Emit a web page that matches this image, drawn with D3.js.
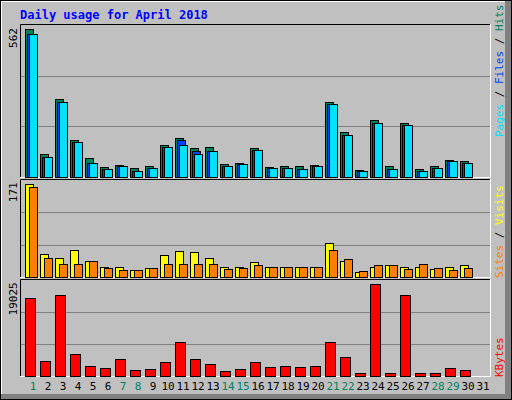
<!DOCTYPE html><html><head><script src="https://cdn.jsdelivr.net/npm/d3@7"></script>
<style>body{margin:0;background:#fff}</style></head><body><svg id="c" width="512" height="400"></svg>
<script>
const days=d3.range(1,32);
const weekend=[1,7,8,14,15,21,22,28,29];
const hits=[552,84,290,136,69,35,43,32,39,118,144,107,110,47,50,107,35,39,39,43,279,167,24,212,39,200,28,39,62,58,0];
const files=[534,74,279,129,50,28,39,20,32,110,136,95,95,39,47,99,32,32,28,39,272,155,20,200,28,193,20,32,58,50,0];
const pages=[534,74,279,129,50,28,39,20,32,110,118,84,95,39,47,99,32,32,28,39,272,155,20,200,28,193,20,32,58,50,0];
const visits=[164,40,34,47,27,18,17,11,15,38,45,43,34,17,18,26,17,18,17,18,59,27,8,17,20,17,18,13,18,20,0];
const sites=[160,33,22,22,27,15,11,11,15,22,22,22,22,13,15,20,17,18,17,17,47,31,10,20,20,13,22,15,11,15,0];
const kbytes=[15434,2871,16032,4267,1874,1476,3270,1077,1276,2672,6660,3270,2273,877,1276,2672,1675,1874,1675,1874,6660,3669,479,18228,479,16032,479,479,1476,1077,0];
const maxLabels=["562","171","19025"];
const svg=d3.select("#c");
// frame
svg.append("rect").attr("x",0).attr("y",0).attr("width",512).attr("height",400).attr("fill","#c0c0c0");
svg.append("path").attr("d","M1,399V1H511").attr("stroke","#fff").attr("stroke-width",2).attr("fill","none");
svg.append("rect").attr("x",505).attr("y",0).attr("width",7).attr("height",400).attr("fill","#808080");
svg.append("rect").attr("x",0).attr("y",394).attr("width",512).attr("height",6).attr("fill","#808080");
svg.append("rect").attr("x",0.5).attr("y",0.5).attr("width",511).attr("height",399).attr("fill","none").attr("stroke","#000");
svg.append("text").attr("x",20).attr("y",19).text("Daily usage for April 2018").attr("font-family","DejaVu Sans Mono").attr("font-weight","bold").attr("font-size",12).attr("fill","#0000ff");
const x=d3.scaleLinear().domain([1,31]).range([25,475]);
const panels=[{y0:24,top:26,base:176.7,max:562},{y0:179,top:180.3,base:276.7,max:171},{y0:279,top:280.3,base:375.7,max:19025}];
panels.forEach((p,i)=>{
  p.y=d3.scaleLinear().domain([0,p.max]).range([p.base,p.top]);
  const b=i==2?377:p.base+1.3;
  svg.append("rect").attr("x",20).attr("y",p.y0).attr("width",470).attr("height",b-p.y0).attr("fill","#c0c0c0");
  [1,2].forEach(k=>{const gy=Math.round(p.base-(p.base-p.top)*k/3)+0.5;
    svg.append("line").attr("x1",21).attr("x2",490).attr("y1",gy).attr("y2",gy).attr("stroke","#808080");});
  svg.append("path").attr("d",`M20.5,${b}V${p.y0+0.5}H490.5`).attr("stroke","#000").attr("fill","none");
  svg.append("path").attr("d",`M490.5,${p.y0}V${b-0.5}H20`).attr("stroke","#fff").attr("fill","none");
  svg.append("text").attr("transform",`translate(17,${p.top+2}) rotate(-90)`).attr("text-anchor","end")
    .text(maxLabels[i]).attr("font-family","DejaVu Sans Mono").attr("font-size",11).attr("fill","#000");
});
function bars(data,p,off,w,col){
  svg.append("g").selectAll("rect").data(data.map((v,i)=>({v,d:days[i]})).filter(d=>d.v>0)).join("rect")
    .attr("x",d=>Math.round(x(d.d))+off+0.5).attr("width",w)
    .attr("y",d=>Math.round(p.y(d.v))+0.5).attr("height",d=>Math.round(p.base)-Math.round(p.y(d.v)))
    .attr("fill",col).attr("stroke","#000");
}
bars(hits,panels[0],0,8,"#00805c");
bars(files,panels[0],2,8,"#0040ff");
bars(pages,panels[0],4,8,"#00e0ff");
bars(visits,panels[1],0,8,"#ffff00");
bars(sites,panels[1],4,8,"#ff8000");
bars(kbytes,panels[2],0,10,"#ff0000");
svg.append("g").selectAll("text").data(days).join("text")
  .attr("x",d=>x(d)+8).attr("y",390).attr("text-anchor","middle").text(d=>d)
  .attr("font-family","DejaVu Sans Mono").attr("font-size",11)
  .attr("fill",d=>weekend.includes(d)?"#00805c":"#000");
function vlabel(parts,yEnd){
  const t=svg.append("text").attr("transform",`translate(503,${yEnd}) rotate(-90)`)
    .attr("font-family","DejaVu Sans Mono").attr("font-size",11);
  parts.forEach(([s,c])=>t.append("tspan").text(s).attr("fill",c));
}
vlabel([["Pages","#00e0ff"],[" / ","#000"],["Files","#0040ff"],[" / ","#000"],["Hits","#00805c"]],137);
vlabel([["Sites","#ff8000"],[" / ","#000"],["Visits","#ffff00"]],278);
vlabel([["KBytes","#ff0000"]],377);
</script></body></html>
